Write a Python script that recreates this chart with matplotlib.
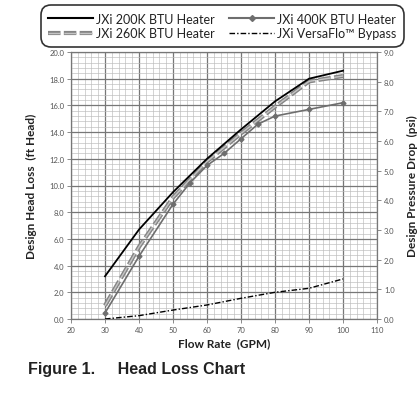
import matplotlib
matplotlib.use('Agg')
import matplotlib.pyplot as plt
from matplotlib.lines import Line2D
from matplotlib.legend_handler import HandlerTuple
import numpy as np

plt.rcParams['font.family'] = ['Lato', 'DejaVu Sans']

# flow rate (GPM) and head loss (ft head)
flow = [30, 40, 50, 60, 70, 80, 90, 100]
head_200k = [3.2, 6.7, 9.5, 12.0, 14.2, 16.3, 18.0, 18.6]
head_260k = [1.0, 5.4, 9.1, 11.8, 13.9, 15.9, 17.8, 18.2]
flow_400k = [30, 40, 50, 55, 60, 65, 70, 75, 80, 90, 100]
head_400k = [0.45, 4.7, 8.6, 10.2, 11.5, 12.4, 13.5, 14.6, 15.2, 15.7, 16.2]
head_bypass = [0.0, 0.25, 0.67, 1.05, 1.55, 2.0, 2.3, 3.0]

x_ticks = list(range(20, 111, 10))
left_ticks = np.arange(0, 20.1, 2.0)
right_ticks = np.arange(0, 9.1, 1.0)

fig = plt.figure(figsize=(4.19, 4.02), dpi=100)
ax = fig.add_axes([71/419, 1-320/402, 306/419, 267/402])

# graph paper grid
ax.set_xticks(x_ticks)
ax.set_xticks(np.arange(20, 111, 2), minor=True)
ax.set_yticks(left_ticks)
ax.set_yticks(np.arange(0, 20.01, 0.4), minor=True)
ax.grid(which='minor', color='#bbbbbb', lw=0.45)
ax.grid(which='major', color='#777777', lw=0.9)
ax.set_axisbelow(True)
ax.set_xlim(20, 110)
ax.set_ylim(0, 20)
for s in ax.spines.values():
    s.set_color('#777777')
    s.set_linewidth(0.9)

ax.tick_params(which='minor', length=0)
ax.tick_params(which='major', length=3, width=0.6, color='#777777',
               labelsize=5.5, labelcolor='#555555', pad=2)
ax.set_yticklabels(['%.1f' % v for v in left_ticks])

# curves
ax.plot(flow, head_200k, color='black', lw=1.3, zorder=5)
ax.plot(flow, head_260k, color='#858585', lw=3.0, ls=(0, (3, 0.8)), zorder=4)
ax.plot(flow, head_260k, color='#c4c4c4', lw=1.0, ls=(0, (9, 2.4)), zorder=4)
ax.plot(flow_400k, head_400k, color='#6e6e6e', lw=1.2, marker='D', ms=2.5, zorder=5)
ax.plot(flow, head_bypass, color='black', lw=1.0, ls=(0, (4, 1.5, 1, 1.5)), zorder=5)

ax.set_xlabel('Flow Rate  (GPM)', fontsize=8.5, fontweight='bold', color='#222222', labelpad=3)
ax.set_ylabel('Design Head Loss  (ft Head)', fontsize=8.5, fontweight='bold', color='#222222', labelpad=9)

ax2 = ax.twinx()
ax2.set_ylim(0, 9)
ax2.set_yticks(right_ticks)
ax2.set_yticklabels(['%.1f' % v for v in right_ticks])
ax2.tick_params(length=3, width=0.6, color='#777777', labelsize=5.5, labelcolor='#555555', pad=2)
for s in ax2.spines.values():
    s.set_visible(False)
ax2.set_ylabel('Design Pressure Drop  (psi)', fontsize=8.5, fontweight='bold', color='#222222',
               rotation=90, labelpad=9)

# legend
h200 = Line2D([], [], color='black', lw=1.5)
h260 = (Line2D([], [], color='#858585', lw=3.0, ls=(0, (3, 0.8))),
        Line2D([], [], color='#c4c4c4', lw=1.0, ls=(0, (9, 2.4))))
h400 = Line2D([], [], color='#6e6e6e', lw=1.5, marker='D', ms=3)
hbyp = Line2D([], [], color='black', lw=1.0, ls=(0, (4, 1.5, 1, 1.5)))
leg = fig.legend([h200, h260, h400, hbyp],
                 ['JXi 200K BTU Heater', 'JXi 260K BTU Heater',
                  'JXi 400K BTU Heater', 'JXi VersaFlo™ Bypass'],
                 handler_map={tuple: HandlerTuple(ndivide=1)},
                 ncol=2, loc='center', bbox_to_anchor=(222/419, 1-27/402),
                 fontsize=9.0, frameon=True, fancybox=True, edgecolor='black',
                 handlelength=3.6, handletextpad=0.2, columnspacing=1.2,
                 labelspacing=0.2, borderpad=0.35)
leg.get_frame().set_linewidth(1.2)
leg.get_frame().set_boxstyle('round', pad=0.25, rounding_size=0.8)
for t in leg.get_texts():
    t.set_color('#222222')

fig.text(28/419, 1-370/402, 'Figure 1.     Head Loss Chart', fontsize=11.5,
         fontweight='bold', family=['Liberation Sans', 'DejaVu Sans'],
         color='#222222', va='center', ha='left')

fig.savefig('out.png', dpi=100)
